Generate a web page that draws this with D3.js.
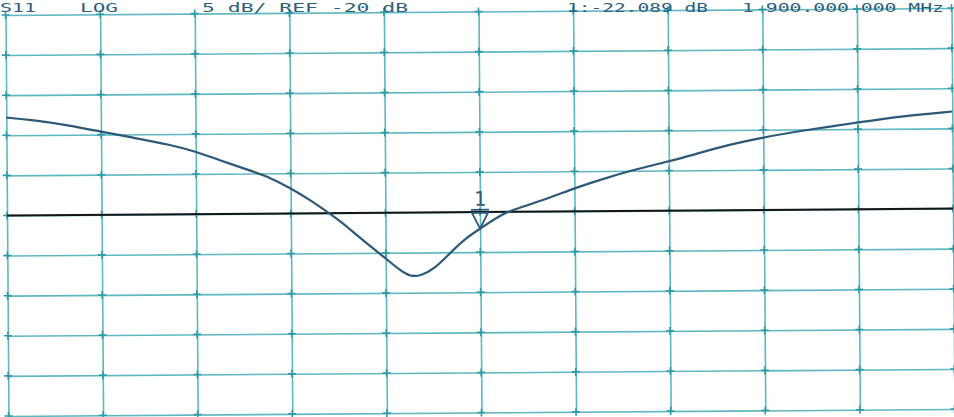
<!DOCTYPE html>
<html>
<head>
<meta charset="utf-8">
<script src="https://cdn.jsdelivr.net/npm/d3@7"></script>
<style>
  body { margin: 0; background: #fff; }
  svg { display: block; }
  .hdr { font-family: "DejaVu Sans Mono", monospace; fill: #2d5f7c; }
</style>
</head>
<body>
<div id="chart"></div>
<script>
const width = 954;
const height = 417;

// trace: x in grid divisions (0..10), S11 in dB
const traceDiv = [0, 0.28, 0.63, 0.99, 1.33, 1.72, 2.0, 2.25, 2.57, 2.78, 2.99, 3.2, 3.38, 3.52, 3.63,
    3.84, 4.0, 4.15, 4.26, 4.37, 4.52, 4.68, 4.84, 5.0, 5.24, 5.42, 5.74, 5.98, 6.27, 6.59, 6.98,
    7.22, 7.54, 7.98, 8.38, 8.99, 9.44, 10];
const traceDb = [-7.8, -8.1, -8.75, -9.6, -10.4, -11.3, -12.2, -13.3, -14.6, -15.5, -16.8, -18.3, -19.8, -21.0, -22.1,
    -24.2, -25.7, -27.2, -28.0, -27.9, -27.0, -25.1, -23.3, -22.09, -20.2, -19.5, -18.3, -17.2, -16.1, -15.0, -13.9,
    -13.2, -12.1, -11.0, -10.2, -9.2, -8.45, -7.9];

const xDivs = d3.range(0, 11);          // 10 horizontal divisions
const yTicks = d3.range(-45, 6, 5);     // 5 dB/div
const refLevel = -20;
const marker = { div: 5, db: -22.089, label: "1" };
const headerTexts = [
    { text: "S11", x: 0, w: 36 },
    { text: "LOG", x: 80, w: 38 },
    { text: "5 dB/ REF -20 dB", x: 202, w: 206 },
    { text: "1:-22.089 dB", x: 567, w: 141 },
    { text: "1 900.000 000 MHz", x: 742, w: 202 }
];

const svg = d3.select("#chart").append("svg")
    .attr("width", width)
    .attr("height", height);

// the scan is a bit crooked
const g = svg.append("g").attr("transform", "rotate(-0.42 480 211.5)");

const x = d3.scaleLinear().domain([0, 10]).range([7, 953]);
const y = d3.scaleLinear().domain([-45, 5]).range([412.5, 11.5]);

const gridColor = "#5fb8c0";

g.append("g")
    .attr("transform", `translate(0,${y(-45)})`)
    .call(d3.axisBottom(x).tickValues(xDivs).tickFormat("").tickSize(-(y(-45) - y(5))).tickSizeOuter(0))
    .call(a => a.select(".domain").remove())
    .call(a => a.selectAll("line").attr("stroke", gridColor).attr("stroke-width", 1.6));

g.append("g")
    .attr("transform", `translate(${x(0)},0)`)
    .call(d3.axisLeft(y).tickValues(yTicks).tickFormat("").tickSize(-(x(10) - x(0))).tickSizeOuter(0))
    .call(a => a.select(".domain").remove())
    .call(a => a.selectAll("line").attr("stroke", gridColor).attr("stroke-width", 1.6));

// little crosses where grid lines meet
const crosses = [];
xDivs.forEach(d => yTicks.forEach(v => crosses.push([d, v])));
g.append("g").selectAll("path")
    .data(crosses)
    .join("path")
    .attr("d", d => `M${x(d[0]) - 4},${y(d[1])}h8M${x(d[0])},${y(d[1]) - 4}v8`)
    .attr("stroke", "#2f9aa6")
    .attr("stroke-width", 1.6);

// reference line
g.append("line")
    .attr("x1", x(0)).attr("x2", x(10))
    .attr("y1", y(refLevel)).attr("y2", y(refLevel))
    .attr("stroke", "#151515")
    .attr("stroke-width", 2);

const line = d3.line()
    .x((d, i) => x(traceDiv[i]))
    .y(d => y(d))
    .curve(d3.curveBasis);

g.append("path")
    .datum(traceDb)
    .attr("d", line)
    .attr("fill", "none")
    .attr("stroke", "#2e5877")
    .attr("stroke-width", 2.2);

// marker 1
const mx = x(marker.div), my = y(marker.db);
g.append("path")
    .attr("d", `M${mx - 9},${my - 19}h18M${mx - 8},${my - 16}L${mx},${my}L${mx + 8},${my - 16}Z`)
    .attr("fill", "none")
    .attr("stroke", "#2e5877")
    .attr("stroke-width", 1.8);
g.append("text")
    .attr("class", "hdr")
    .attr("x", mx)
    .attr("y", my - 23)
    .attr("text-anchor", "middle")
    .attr("font-size", 20)
    .text(marker.label);

// header line sits right on top of the grid
svg.selectAll("text.top")
    .data(headerTexts)
    .join("text")
    .attr("class", "hdr top")
    .attr("x", d => d.x)
    .attr("y", 11.5)
    .attr("font-size", 12)
    .attr("textLength", d => d.w)
    .attr("lengthAdjust", "spacingAndGlyphs")
    .text(d => d.text);
</script>
</body>
</html>
